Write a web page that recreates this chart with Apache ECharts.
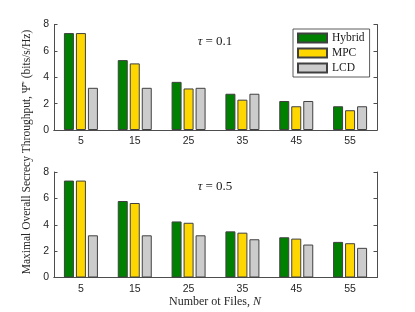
<!DOCTYPE html>
<html>
<head>
<meta charset="utf-8">
<script src="https://cdn.jsdelivr.net/npm/echarts@6/dist/echarts.min.js"></script>
<style>html,body{margin:0;padding:0;background:#fff}#c{width:415px;height:312px}</style>
</head>
<body>
<div id="c"></div>
<script>
const categories = ['5', '15', '25', '35', '45', '55'];
const yTicks = [0, 2, 4, 6, 8];
const seriesNames = ['Hybrid', 'MPC', 'LCD'];
// tau = 0.1 (top panel)
const hybridTop = [7.35, 5.3, 3.65, 2.75, 2.2, 1.8];
const mpcTop    = [7.35, 5.05, 3.15, 2.3, 1.8, 1.5];
const lcdTop    = [3.2, 3.2, 3.2, 2.75, 2.2, 1.8];
// tau = 0.5 (bottom panel)
const hybridBot = [7.35, 5.8, 4.25, 3.5, 3.05, 2.7];
const mpcBot    = [7.35, 5.65, 4.15, 3.4, 2.95, 2.6];
const lcdBot    = [3.2, 3.2, 3.2, 2.9, 2.5, 2.25];
const panelLabels = ['0.1', '0.5'];

const colors = ['#008000', '#ffd700', '#cccccc'];
const axisColor = '#4d4d4d';
const serif = 'Liberation Serif';
const sans = 'Liberation Sans';

const grids = [
  {left: 54, right: 38, top: 24.5, height: 105.5},
  {left: 54, right: 38, top: 172, height: 105.5}
];

const xAxes = [], yAxes = [];
[0, 1].forEach(g => {
  xAxes.push({
    type: 'category', gridIndex: g, data: categories, boundaryGap: true,
    axisLine: {lineStyle: {color: axisColor, width: 1}},
    axisTick: {inside: true, alignWithLabel: true, length: 3.5, lineStyle: {color: axisColor}},
    axisLabel: {color: '#262626', fontFamily: sans, fontSize: 10.5, margin: 6},
    splitLine: {show: false}
  });
  xAxes.push({
    type: 'category', gridIndex: g, data: categories, position: 'top', boundaryGap: true,
    axisLine: {lineStyle: {color: axisColor, width: 1}},
    axisTick: {inside: true, alignWithLabel: true, length: 3.5, lineStyle: {color: axisColor}},
    axisLabel: {show: false}
  });
  yAxes.push({
    type: 'value', gridIndex: g, min: 0, max: 8, interval: 2,
    axisLine: {show: true, lineStyle: {color: axisColor, width: 1}},
    axisTick: {show: true, inside: true, length: 3.5, lineStyle: {color: axisColor}},
    axisLabel: {color: '#262626', fontFamily: sans, fontSize: 10.5, margin: 5,
      formatter: v => yTicks.includes(v) ? String(v) : ''},
    splitLine: {show: false}
  });
  yAxes.push({
    type: 'value', gridIndex: g, min: 0, max: 8, interval: 2, position: 'right',
    axisLine: {show: true, lineStyle: {color: axisColor, width: 1}},
    axisTick: {show: true, inside: true, length: 3.5, lineStyle: {color: axisColor}},
    axisLabel: {show: false},
    splitLine: {show: false}
  });
});

const panelData = [[hybridTop, mpcTop, lcdTop], [hybridBot, mpcBot, lcdBot]];
const series = [];
panelData.forEach((arrs, g) => {
  arrs.forEach((d, i) => {
    series.push({
      type: 'bar', name: seriesNames[i], data: d,
      xAxisIndex: g * 2, yAxisIndex: g * 2,
      barWidth: 10, barGap: '20%',
      itemStyle: {color: colors[i], borderColor: '#404040', borderWidth: 1},
      emphasis: {disabled: true},
      animation: false
    });
  });
});

const chart = echarts.init(document.getElementById('c'), null, {renderer: 'canvas'});
chart.setOption({
  animation: false,
  grid: grids,
  xAxis: xAxes,
  yAxis: yAxes,
  series: series,
  legend: {
    data: seriesNames, orient: 'vertical', left: 293, top: 29,
    icon: 'rect', itemWidth: 29, itemHeight: 9, itemGap: 3,
    padding: [3, 5, 3, 4],
    backgroundColor: '#fff', borderColor: '#333', borderWidth: 0.8,
    textStyle: {fontFamily: serif, fontSize: 11.5, color: '#1a1a1a'},
    selectedMode: false
  },
  graphic: [
    {type: 'text', x: 215, y: 42,
      style: {text: '{i|τ} = ' + panelLabels[0], font: '13px ' + serif, fill: '#1a1a1a',
        align: 'center', verticalAlign: 'middle',
        rich: {i: {fontStyle: 'italic', fontFamily: serif, fontSize: 13}}}},
    {type: 'text', x: 215, y: 187,
      style: {text: '{i|τ} = ' + panelLabels[1], font: '13px ' + serif, fill: '#1a1a1a',
        align: 'center', verticalAlign: 'middle',
        rich: {i: {fontStyle: 'italic', fontFamily: serif, fontSize: 13}}}},
    {type: 'text', x: 27, y: 152, rotation: Math.PI / 2,
      style: {text: 'Maximal Overall Secrecy Throughput, Ψ̄{s|*} (bits/s/Hz)',
        font: '11.5px ' + serif, fill: '#262626', align: 'center', verticalAlign: 'middle',
        rich: {s: {fontSize: 7, fontFamily: serif, verticalAlign: 'top'}}}},
    {type: 'text', x: 215, y: 302,
      style: {text: 'Number ot Files, {i|N}', font: '12px ' + serif, fill: '#262626',
        align: 'center', verticalAlign: 'middle',
        rich: {i: {fontStyle: 'italic', fontFamily: serif, fontSize: 12}}}}
  ]
});
</script>
</body>
</html>
